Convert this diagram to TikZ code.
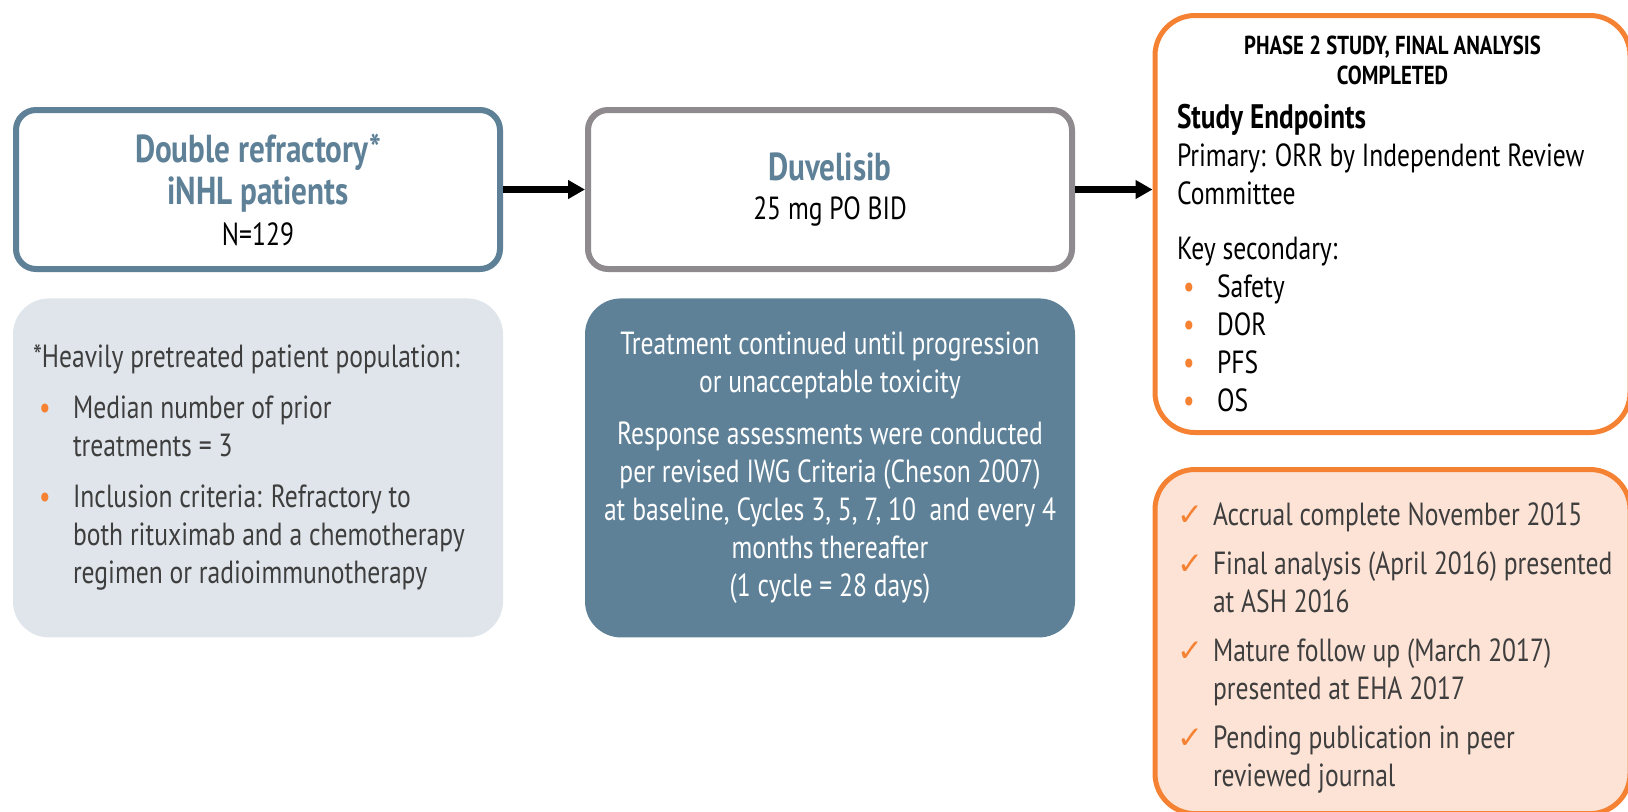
\documentclass[tikz,border=0pt]{standalone}
\usepackage{fontspec}
\setmainfont[FakeStretch=0.8]{PT Sans}
\newfontfamily\tickfont{DejaVu Sans}
\usetikzlibrary{arrows.meta, positioning}
\definecolor{dvblue}{HTML}{5E8198}
\definecolor{dvgray}{HTML}{8E8A8D}
\definecolor{dvorange}{HTML}{F58233}
\definecolor{dvpeach}{HTML}{FDE3D5}
\definecolor{dvmist}{HTML}{DFE5EA}
\definecolor{dvtext}{HTML}{3E3E3E}
\newcommand{\headtext}{\fontsize{19.5}{22}\selectfont\bfseries\color{dvblue}}
\newcommand{\dotitem}[1]{\par\hangindent=20pt\noindent\hbox to 20pt{\hskip3pt\textcolor{dvorange}{•}\hfil}#1}
\newcommand{\tickitem}[1]{\par\hangindent=18pt\noindent\hbox to 18pt{\textcolor{dvorange}{\tickfont\fontsize{15.5}{19}\selectfont ✓}\hfil}#1}
\tikzset{
  every node/.style={font=\fontsize{16}{19}\selectfont},
  frame/.style={
    rectangle,
    rounded corners=10pt,
    line width=3pt,
    fill=white,
    minimum width=242pt,
    minimum height=79.5pt,
    align=center
  },
  panel/.style={
    rectangle,
    rounded corners=18pt,
    minimum width=245pt,
    minimum height=169.5pt
  },
  card/.style={
    rectangle,
    rounded corners=20pt,
    draw=dvorange,
    line width=2.5pt,
    minimum width=237.5pt,
    text width=215.5pt,
    inner xsep=11pt,
    align=flush left
  },
  link/.style={line width=3.3pt, -{Triangle[length=8.5pt,width=9pt]}}
}

\begin{document}
\begin{tikzpicture}[x=0.5pt, y=-0.5pt, node distance=13pt]
  \useasboundingbox (0,0) rectangle (1628,811);

  % top row
  \node (cohort) [frame, draw=dvblue] at (258,189.5)
    {{\headtext Double refractory*}\\[2pt]{\headtext iNHL patients}\\[1.5pt]N=129};
  \node (drug) [frame, draw=dvgray, right=41pt of cohort]
    {{\headtext Duvelisib}\\[0.5pt]25 mg PO BID};
  \node (endpts) [card, fill=white, minimum height=208.5pt] at (1392.5,224)
    {\setlength{\parskip}{0pt}\setlength{\parindent}{0pt}%
     {\centering\fontsize{13}{15}\selectfont\bfseries PHASE 2 STUDY, FINAL ANALYSIS\\COMPLETED\par}
     \vspace{3pt}
     {\fontsize{17}{19}\selectfont\bfseries Study Endpoints\par}
     Primary: ORR by Independent Review\newline Committee\par
     \vspace{8.5pt}
     Key secondary:
     \dotitem{Safety}\dotitem{DOR}\dotitem{PFS}\dotitem{OS}\par};

  % lower row
  \node (crit) [panel, fill=dvmist, below=13pt of cohort, text width=225pt,
    inner xsep=10pt, align=flush left, text=dvtext]
    {\setlength{\parskip}{6.5pt}\setlength{\parindent}{0pt}%
     *Heavily pretreated patient population:
     \dotitem{Median number of prior\newline treatments = 3}
     \dotitem{Inclusion criteria: Refractory to\newline both rituximab and a chemotherapy\newline regimen or radioimmunotherapy}\par};
  \node (sched) [panel, fill=dvblue, below=13pt of drug, text=white, align=center]
    {Treatment continued until progression\\or unacceptable toxicity\\[7pt]
     Response assessments were conducted\\per revised IWG Criteria (Cheson 2007)\\
     at baseline, Cycles 3, 5, 7, 10~ and every 4\\months thereafter\\(1 cycle = 28 days)};
  \node (status) [card, fill=dvpeach, minimum height=169.5pt, below=16pt of endpts, text=dvtext]
    {\setlength{\parskip}{5.5pt}\setlength{\parindent}{0pt}%
     \tickitem{Accrual complete November 2015}
     \tickitem{\mbox{Final analysis (April 2016) presented}\newline at ASH 2016}
     \tickitem{Mature follow up (March 2017)\newline presented at EHA 2017}
     \tickitem{Pending publication in peer\newline reviewed journal}\par
     \vspace{7pt}};

  \draw [link] (cohort) -- (drug);
  \draw [link] (drug.east) -- (drug.east -| endpts.west);
\end{tikzpicture}
\end{document}
